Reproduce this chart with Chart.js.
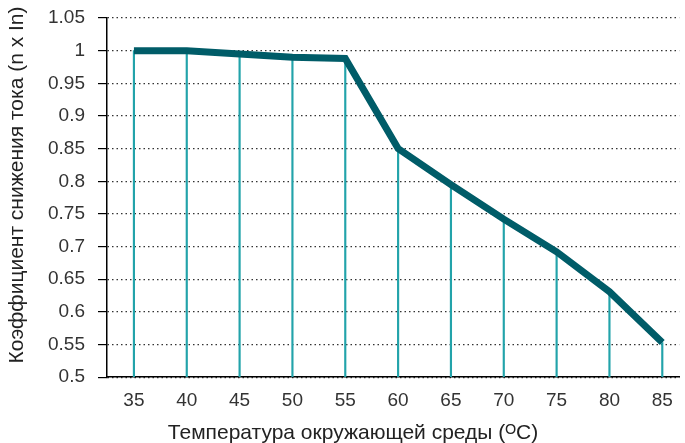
<!DOCTYPE html>
<html>
<head>
<meta charset="utf-8">
<script src="https://cdn.jsdelivr.net/npm/chart.js@4/dist/chart.umd.min.js"></script>
<style>
  html, body { margin: 0; padding: 0; background: #fff; }
  #wrap { width: 685px; height: 443px; }
</style>
</head>
<body>
<div id="wrap"><canvas id="myChart"></canvas></div>
<script>
// derating factor vs ambient temperature
var temps = [35, 40, 45, 50, 55, 60, 65, 70, 75, 80, 85];
var factor = [1, 1, 0.995, 0.99, 0.988, 0.85, 0.795, 0.742, 0.692, 0.631, 0.553];
var yTicks = [0.5, 0.55, 0.6, 0.65, 0.7, 0.75, 0.8, 0.85, 0.9, 0.95, 1, 1.05];
var xTitle = "Температура окружающей среды (ᴼC)";
var yTitle = "Коэффициент снижения тока (n x In)";

var points = temps.map(function (t, i) { return {x: t, y: factor[i]}; });
var font = "'Liberation Sans', Arial, sans-serif";

// axis titles sit a little off the plot centre in the original, so draw them here
var axisTitles = {
  id: "axisTitles",
  afterDraw: function (chart) {
    var ctx = chart.ctx;
    ctx.save();
    ctx.fillStyle = "#222";
    ctx.font = "21px " + font;
    ctx.textAlign = "center";
    ctx.textBaseline = "middle";
    ctx.fillText(xTitle, 353, 433);
    ctx.translate(17, 185);
    ctx.rotate(-Math.PI / 2);
    ctx.fillText(yTitle, 0, 0);
    ctx.restore();
  }
};

new Chart("myChart", {
  data: {
    datasets: [{
      type: "line",
      data: points,
      borderColor: "#005c68",
      borderWidth: 7,
      pointRadius: 0,
      borderJoinStyle: "miter",
      tension: 0,
      fill: false,
      order: 1
    }, {
      // thin drop lines from every point down to the axis
      type: "bar",
      data: points,
      backgroundColor: "#22a3aa",
      barThickness: 1.5,
      base: 0.5,
      order: 2
    }]
  },
  plugins: [axisTitles],
  options: {
    responsive: true,
    maintainAspectRatio: false,
    animation: false,
    layout: {padding: {top: 18, right: 5, left: 35, bottom: 19}},
    plugins: {legend: {display: false}, tooltip: {enabled: false}},
    scales: {
      x: {
        type: "linear",
        offset: false,
        min: 32.45,
        max: 86.6,
        afterBuildTicks: function (s) { s.ticks = temps.map(function (v) { return {value: v}; }); },
        grid: {display: false, drawTicks: false},
        border: {display: true, color: "#000", width: 1.5},
        ticks: {color: "#333", font: {family: font, size: 19}, padding: 12}
      },
      y: {
        min: 0.5,
        max: 1.05,
        afterBuildTicks: function (s) { s.ticks = yTicks.map(function (v) { return {value: v}; }); },
        afterFit: function (s) { s.paddingTop = 0; s.paddingBottom = 0; },
        grid: {color: "#333", lineWidth: 1.2, tickLength: 9, tickColor: "#000", tickWidth: 1.2, tickBorderDash: []},
        border: {display: true, color: "#000", width: 1.5, dash: [1.5, 3]},
        ticks: {color: "#333", font: {family: font, size: 19}, padding: 13,
                callback: function (v) { return String(Math.round(v * 100) / 100); }}
      }
    }
  }
});
</script>
</body>
</html>
